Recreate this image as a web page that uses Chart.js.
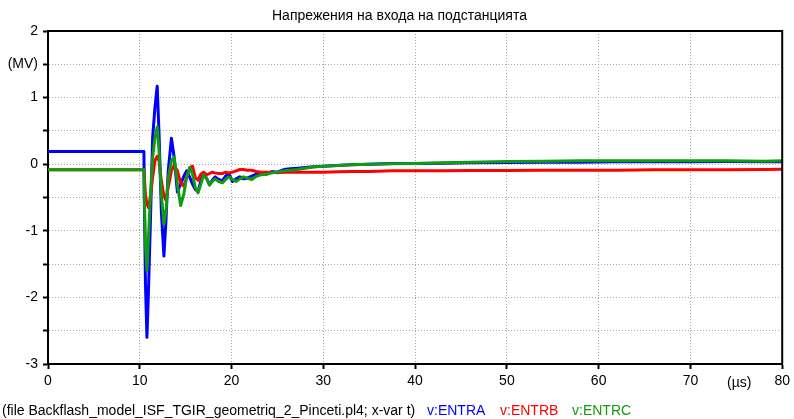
<!DOCTYPE html>
<html>
<head>
<meta charset="utf-8">
<script src="https://cdn.jsdelivr.net/npm/chart.js@4.4.1/dist/chart.umd.min.js"></script>
<style>
  html, body { margin: 0; padding: 0; background: #fff; }
  #wrap { width: 794px; height: 419px; }
</style>
</head>
<body>
<div id="wrap"><canvas id="c" width="794" height="419"></canvas></div>
<script>
// Time axis samples (µs)
const timeUs = [0, 10.45, 10.5, 10.62, 10.78, 10.95, 11.15, 11.4, 11.65, 11.9, 12.1, 12.35, 12.63, 12.85, 13.1, 13.45, 13.75, 14.1, 14.45, 14.8, 15.1, 15.45, 15.75, 16.05, 16.35, 16.65, 16.95, 17.3, 17.6, 17.9, 18.2, 18.6, 19.0, 19.35, 19.7, 20.1, 20.5, 20.9, 21.3, 21.7, 22.2, 22.7, 23.2, 23.8, 24.4, 25.0, 25.7, 26.4, 27.2, 28.0, 29.0, 30.0, 31.5, 33, 35, 37.5, 40, 43, 46, 50, 54, 58, 62, 66, 70, 74, 78, 80];

// Phase voltages at the substation entrance (MV)
const entrA = [0.19, 0.19, -0.6, -1.8, -2.6, -1.9, -0.9, 0.4, 0.85, 1.17, 0.45, -0.7, -1.38, -0.85, -0.1, 0.39, 0.1, -0.42, -0.3, -0.18, -0.1, -0.2, -0.3, -0.38, -0.41, -0.25, -0.14, -0.22, -0.31, -0.24, -0.19, -0.23, -0.25, -0.18, -0.14, -0.26, -0.22, -0.19, -0.22, -0.21, -0.18, -0.15, -0.14, -0.15, -0.11, -0.12, -0.08, -0.07, -0.06, -0.05, -0.04, -0.03, -0.02, -0.01, 0.0, 0.01, 0.01, 0.015, 0.02, 0.025, 0.03, 0.03, 0.035, 0.035, 0.035, 0.04, 0.035, 0.035];

const entrB = [-0.085, -0.085, -0.2, -0.45, -0.6, -0.65, -0.5, -0.2, 0.05, 0.12, 0.05, -0.25, -0.48, -0.54, -0.35, -0.1, -0.02, -0.1, -0.28, -0.33, -0.2, -0.05, -0.03, -0.2, -0.24, -0.15, -0.12, -0.16, -0.14, -0.12, -0.13, -0.14, -0.14, -0.12, -0.13, -0.12, -0.1, -0.08, -0.08, -0.09, -0.09, -0.11, -0.12, -0.12, -0.12, -0.13, -0.12, -0.12, -0.12, -0.12, -0.12, -0.12, -0.115, -0.11, -0.11, -0.1, -0.1, -0.1, -0.095, -0.095, -0.09, -0.09, -0.09, -0.085, -0.085, -0.085, -0.08, -0.075];

const entrC = [-0.085, -0.085, -0.5, -1.2, -1.6, -1.1, -0.5, 0.1, 0.4, 0.56, 0.2, -0.45, -0.9, -0.7, -0.2, 0.05, 0.11, -0.3, -0.62, -0.45, -0.2, -0.05, -0.15, -0.35, -0.43, -0.3, -0.16, -0.22, -0.31, -0.26, -0.22, -0.26, -0.28, -0.23, -0.19, -0.23, -0.26, -0.22, -0.19, -0.21, -0.23, -0.18, -0.16, -0.15, -0.13, -0.12, -0.1, -0.09, -0.08, -0.06, -0.04, -0.03, -0.02, -0.01, 0.0, 0.005, 0.01, 0.02, 0.03, 0.04, 0.045, 0.05, 0.05, 0.05, 0.05, 0.05, 0.045, 0.05];

const xTicks = [0, 10, 20, 30, 40, 50, 60, 70, 80];
const yTicks = [-3, -2.5, -2, -1.5, -1, -0.5, 0, 0.5, 1, 1.5, 2];

const titleText = 'Напрежения на входа на подстанцията';
const footerFile = '(file Backflash_model_ISF_TGIR_geometriq_2_Pinceti.pl4; x-var t)';
const seriesNames = ['v:ENTRA', 'v:ENTRB', 'v:ENTRC'];
const seriesColors = ['#0000ff', '#ff0000', '#109c10'];

const FAMILY = '"Liberation Sans", Arial, sans-serif';
const SIZE = 14;
const FONT = SIZE + 'px ' + FAMILY;

const toXY = vals => timeUs.map((t, i) => ({ x: t, y: vals[i] }));

// Title, frame, unit label and footer line
const decorations = {
  id: 'decorations',
  afterDraw(chart) {
    const { ctx, chartArea: a } = chart;
    ctx.save();
    ctx.strokeStyle = '#000';
    ctx.lineWidth = 2;
    ctx.beginPath();
    ctx.moveTo(a.left, a.top);
    ctx.lineTo(a.right, a.top);
    ctx.lineTo(a.right, a.bottom);
    ctx.stroke();

    ctx.font = FONT;
    ctx.fillStyle = '#000';
    ctx.textBaseline = 'middle';
    ctx.textAlign = 'left';
    ctx.fillText(titleText, 272, 16);

    ctx.fillText('(µs)', 727, 383);

    ctx.fillText(footerFile, 2, 411);
    const pos = [427, 500, 572];
    seriesNames.forEach((n, i) => {
      ctx.fillStyle = seriesColors[i];
      ctx.fillText(n, pos[i], 411);
    });
    ctx.restore();
  }
};

const gridOpts = { color: '#a8a8a8', lineWidth: 1, tickColor: '#000', tickWidth: 2, tickLength: 5, tickBorderDash: [] };
const borderOpts = { display: true, color: '#000', width: 2, dash: [1, 2] };

new Chart(document.getElementById('c'), {
  type: 'line',
  data: {
    datasets: [
      { label: seriesNames[0], data: toXY(entrA), borderColor: seriesColors[0], order: 3 },
      { label: seriesNames[1], data: toXY(entrB), borderColor: seriesColors[1], order: 2 },
      { label: seriesNames[2], data: toXY(entrC), borderColor: seriesColors[2], order: 1 }
    ]
  },
  options: {
    responsive: false,
    animation: false,
    devicePixelRatio: 1,
    layout: { padding: { top: 31, right: 9, left: 0, bottom: 0 } },
    elements: {
      point: { radius: 0 },
      line: { borderWidth: 3, tension: 0, fill: false, borderJoinStyle: 'round' }
    },
    plugins: {
      legend: { display: false },
      title: { display: false },
      tooltip: { enabled: false }
    },
    scales: {
      x: {
        type: 'linear',
        min: 0,
        max: 80,
        afterBuildTicks: s => { s.ticks = xTicks.map(v => ({ value: v })); },
        afterFit: s => { s.height = 55; },
        ticks: { font: { family: FAMILY, size: SIZE }, color: '#000', padding: 4, maxRotation: 0 },
        grid: gridOpts,
        border: borderOpts
      },
      y: {
        type: 'linear',
        min: -3,
        max: 2,
        afterBuildTicks: s => { s.ticks = yTicks.map(v => ({ value: v })); },
        afterFit: s => { s.width = 48; },
        ticks: {
          font: { family: FAMILY, size: SIZE },
          color: '#000',
          padding: 5,
          callback: v => (v === 1.5 ? '(MV)' : (Number.isInteger(v) ? String(v) : ''))
        },
        grid: gridOpts,
        border: borderOpts
      }
    }
  },
  plugins: [decorations]
});
</script>
</body>
</html>
